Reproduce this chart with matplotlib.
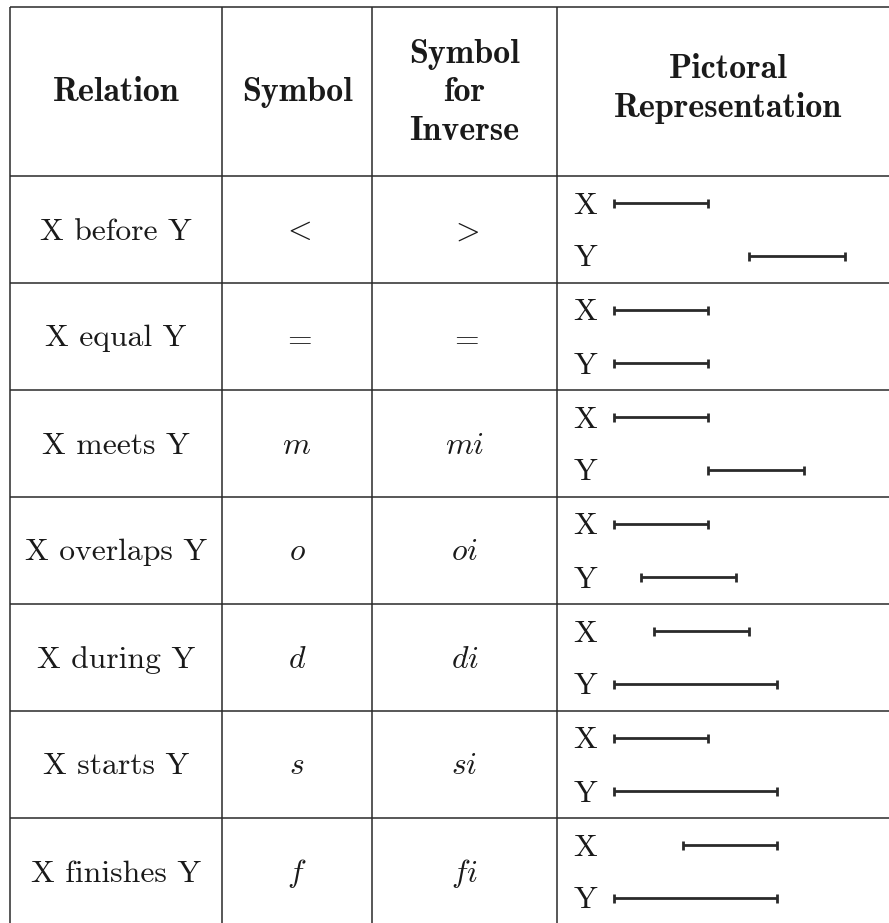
"""
Allen interval relations table, redrawn with matplotlib.
"""
import matplotlib
matplotlib.use("Agg")
import matplotlib.pyplot as plt

W, H = 889, 923

HEADERS = [["Relation"], ["Symbol"], ["Symbol", "for", "Inverse"], ["Pictoral", "Representation"]]
RELATIONS = ["X before Y", "X equal Y", "X meets Y", "X overlaps Y",
             "X during Y", "X starts Y", "X finishes Y"]
SYMBOLS = [r"$<$", r"$=$", r"$m$", r"$o$", r"$d$", r"$s$", r"$f$"]
INVERSES = [r"$>$", r"$=$", r"$mi$", r"$oi$", r"$di$", r"$si$", r"$fi$"]
# interval (start, end) in time units for X and Y
X_INTERVALS = [(0, 3.5), (0, 3.5), (0, 3.5), (0, 3.5), (1.5, 5.0), (0, 3.5), (2.55, 6.05)]
Y_INTERVALS = [(5.0, 8.6), (0, 3.5), (3.5, 7.05), (1.0, 4.55), (0, 6.05), (0, 6.05), (0, 6.05)]

# layout in pixels
COL_X = [10, 222, 372, 557]
TOP = 7
HEADER_BOTTOM = 176
ROW_H = 107
PIC_ORIGIN = 614
PX_PER_UNIT = 26.9
FS = 22.8
FS_HEAD = 24.5
INK = "#1a1a1a"
LINE = "#2a2a2a"

plt.rcParams["mathtext.fontset"] = "cm"

fig = plt.figure(figsize=(W / 100, H / 100), dpi=100)
fig.patch.set_facecolor("white")
ax = fig.add_axes([0, 0, 1, 1])
ax.set_xlim(0, W)
ax.set_ylim(H, 0)
ax.axis("off")

# grid
ax.hlines(TOP, COL_X[0], W, color=LINE, lw=1.1)
ax.hlines(HEADER_BOTTOM, COL_X[0], W, color=LINE, lw=1.1)
for i in range(1, len(RELATIONS) + 1):
    ax.hlines(HEADER_BOTTOM + i * ROW_H, COL_X[0], W, color=LINE, lw=1.1)
ax.vlines(COL_X, TOP, H, color=LINE, lw=1.1)

col_centers = [(COL_X[0] + COL_X[1]) / 2, (COL_X[1] + COL_X[2]) / 2,
               (COL_X[2] + COL_X[3]) / 2, 728]

# header
line_gap = 38.5
for cx, lines in zip(col_centers, HEADERS):
    n = len(lines)
    base0 = 101 - (n - 1) * line_gap / 2
    if n == 2:
        base0 = 78
    for k, txt in enumerate(lines):
        ax.text(cx, base0 + k * line_gap, txt, ha="center", va="baseline",
                family="cmb10", fontsize=FS_HEAD, color=INK)

# body rows
for i, (rel, sym, inv) in enumerate(zip(RELATIONS, SYMBOLS, INVERSES)):
    top = HEADER_BOTTOM + i * ROW_H
    base = top + ROW_H / 2 + 10
    ax.text(col_centers[0], base, rel, ha="center", va="baseline",
            family="cmr10", fontsize=FS, color=INK)
    ax.text(col_centers[1], base, sym, ha="center", va="baseline",
            fontsize=FS, color=INK)
    ax.text(col_centers[2], base, inv, ha="center", va="baseline",
            fontsize=FS, color=INK)
    for label, dy in (("X", 27), ("Y", 80)):
        ax.text(585, top + dy + 10.5, label, ha="center", va="baseline",
                family="cmr10", fontsize=FS, color=INK)

# pictorial intervals on their own time scale
pic = fig.add_axes([0, 0, 1, 1])
pic.set_xlim(-PIC_ORIGIN / PX_PER_UNIT, (W - PIC_ORIGIN) / PX_PER_UNIT)
pic.set_ylim(H, 0)
pic.axis("off")
pic.patch.set_alpha(0)
for i in range(len(RELATIONS)):
    top = HEADER_BOTTOM + i * ROW_H
    for (start, end), dy in ((X_INTERVALS[i], 27), (Y_INTERVALS[i], 80)):
        y = top + dy
        pic.hlines(y, start, end, color=LINE, lw=2.0)
        pic.vlines([start, end], y - 4.5, y + 4.5, color=LINE, lw=2.0)

fig.savefig("out.png", dpi=100, facecolor="white")
